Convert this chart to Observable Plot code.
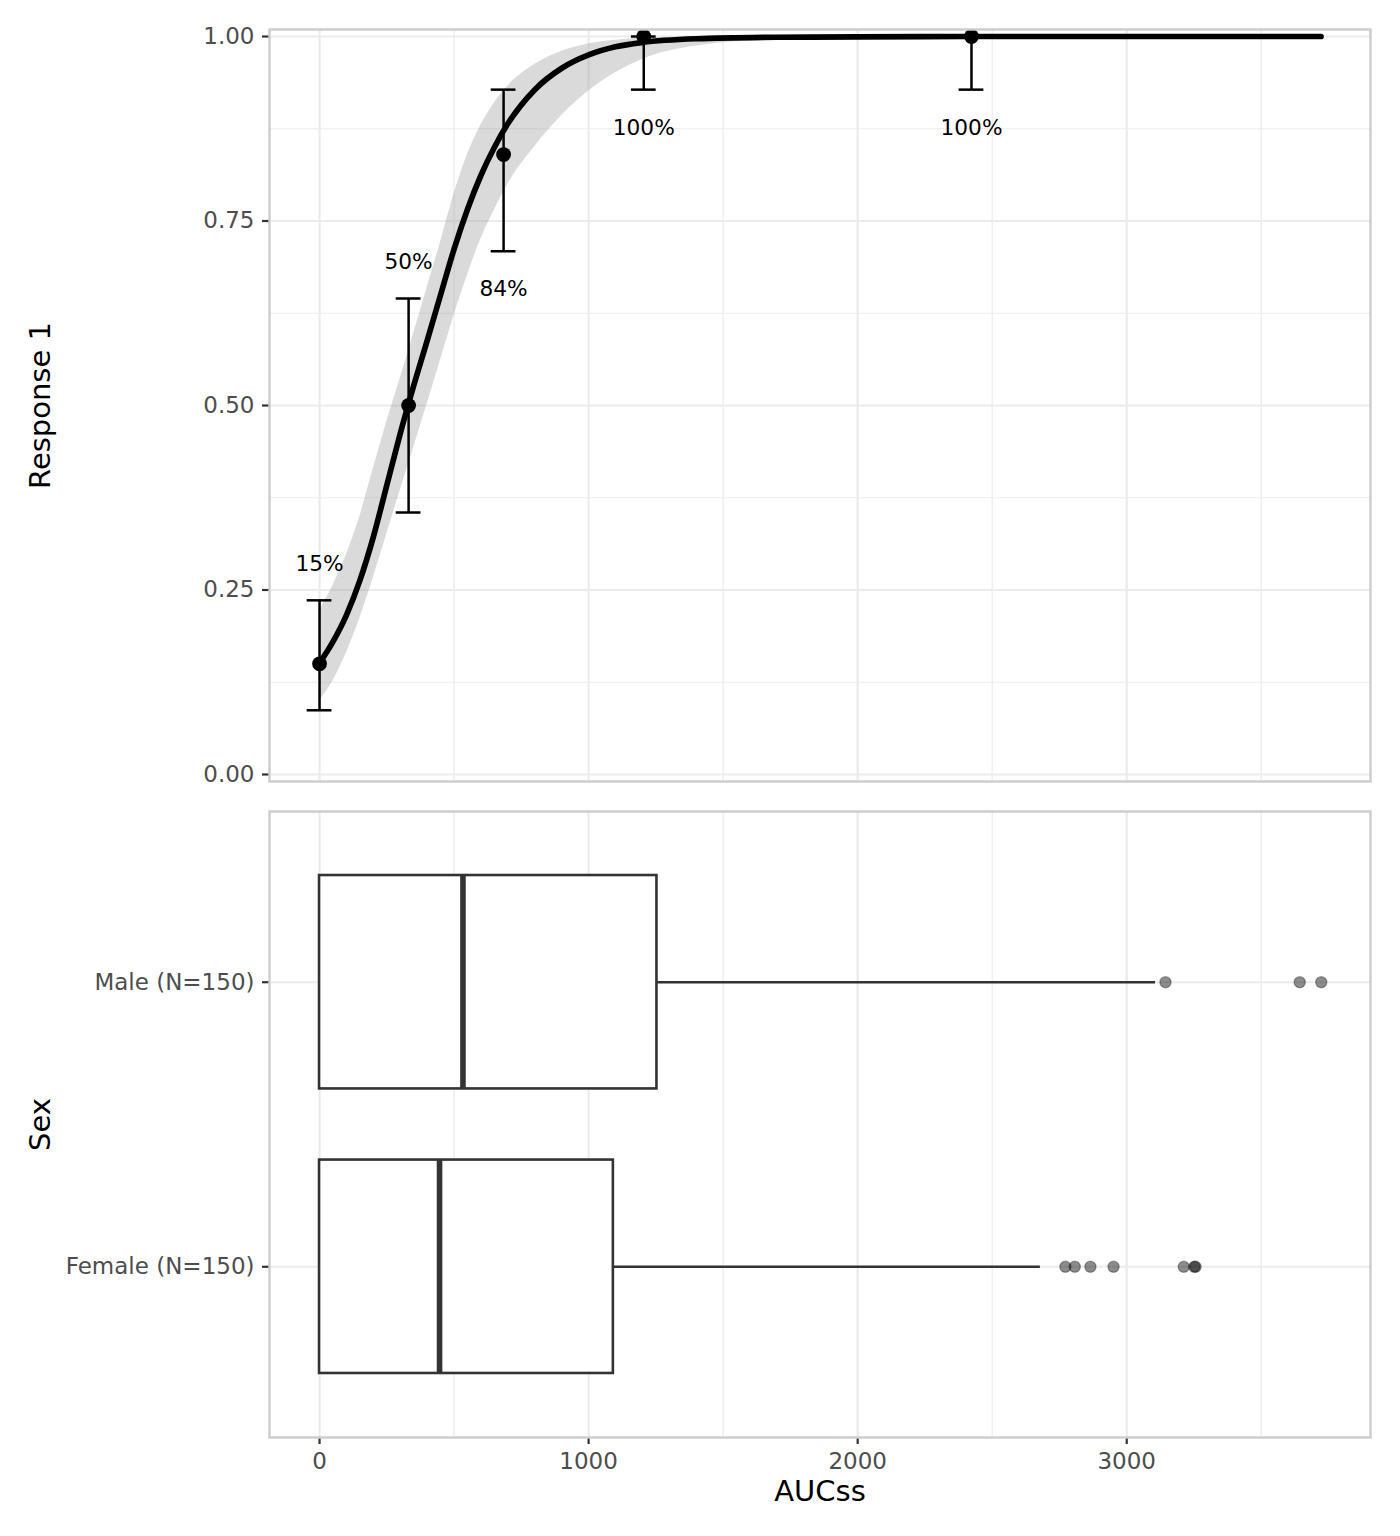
<!DOCTYPE html>
<html>
<head>
<meta charset="utf-8">
<script src="https://cdn.jsdelivr.net/npm/d3@7"></script>
<script src="https://cdn.jsdelivr.net/npm/@observablehq/plot@0.6"></script>
<style>
  html, body { margin: 0; padding: 0; background: #ffffff; }
  #chart svg { display: block; }
</style>
</head>
<body>
<div id="chart"></div>
<script>
// ---------------- data ----------------
// observed response by exposure bin
const respX = [0, 331, 684, 1205, 2423];
const respP = [0.15, 0.50, 0.84, 1.00, 1.00];
const respLo = [0.087, 0.355, 0.709, 0.928, 0.928];
const respHi = [0.236, 0.645, 0.928, 1.00, 1.00];
const respLabels = ["15%", "50%", "84%", "100%", "100%"];
const labelSide = ["above", "above", "below", "below", "below"];

// fitted curve and its confidence band
const fitX  = [0, 50, 100, 150, 200, 250, 300, 350, 400, 450, 500, 550, 600, 650, 700, 800, 900, 1000, 1100, 1200, 1400, 1700, 2000, 2400, 3722];
const fitP  = [0.151, 0.180, 0.216, 0.263, 0.322, 0.392, 0.462, 0.527, 0.588, 0.650, 0.712, 0.766, 0.812, 0.850, 0.882, 0.928, 0.957, 0.975, 0.986, 0.992, 0.997, 0.999, 0.9995, 1.0, 1.0];
const fitLo = [0.100, 0.127, 0.165, 0.212, 0.267, 0.326, 0.385, 0.443, 0.502, 0.562, 0.622, 0.677, 0.726, 0.765, 0.800, 0.851, 0.893, 0.926, 0.951, 0.969, 0.987, 0.996, 0.999, 1.0, 1.0];
const fitHi = [0.222, 0.256, 0.298, 0.350, 0.415, 0.478, 0.537, 0.598, 0.660, 0.722, 0.787, 0.840, 0.880, 0.910, 0.933, 0.962, 0.980, 0.990, 0.995, 0.998, 0.9995, 1.0, 1.0, 1.0, 1.0];

// boxplot of AUCss by sex
const sexLevels = ["Female (N=150)", "Male (N=150)"];
const boxQ1 = [0, 0];
const boxMedian = [446, 533];
const boxQ3 = [1092, 1254];
const whiskerLo = [0, 0];
const whiskerHi = [2679, 3107];
const outliersFemale = [2772, 2807, 2865, 2951, 3212, 3251, 3256];
const outliersMale = [3144, 3643, 3723];

// axes
const xTicks = [0, 1000, 2000, 3000];
const xMinor = [500, 1500, 2500, 3500];
const yTicks = [0, 0.25, 0.5, 0.75, 1];
const yMinor = [0.125, 0.375, 0.625, 0.875];
const xDomain = [-186, 3906];
const capHalf = 46;

// ---------------- tables ----------------
const resp = respX.map((x, i) => ({x, p: respP[i], lo: respLo[i], hi: respHi[i], label: respLabels[i], side: labelSide[i]}));
const caps = resp.flatMap(d => [{x: d.x, y: d.lo}, {x: d.x, y: d.hi}]);
const fit = fitX.map((x, i) => ({x, p: fitP[i], lo: fitLo[i], hi: fitHi[i]}));
const boxes = sexLevels.map((s, i) => ({
  pos: i + 1, q1: boxQ1[i], med: boxMedian[i], q3: boxQ3[i], wlo: whiskerLo[i], whi: whiskerHi[i]
}));
const outliers = [
  ...outliersFemale.map(x => ({x, pos: 1})),
  ...outliersMale.map(x => ({x, pos: 2}))
];

const GRID = "#EBEBEB";
const BORDER = "#CCCCCC";
const TICK = "#333333";
const TICKTEXT = "#4D4D4D";
const svgStyle = {fontFamily: "'DejaVu Sans', sans-serif", background: "#ffffff", overflow: "visible"};

// ---------------- top panel ----------------
const topPlot = Plot.plot({
  width: 1400,
  height: 795,
  marginLeft: 269,
  marginRight: 30,
  marginTop: 29,
  marginBottom: 14,
  style: svgStyle,
  x: {domain: xDomain, axis: null},
  y: {domain: [-0.0095, 1.0095]},
  marks: [
    Plot.ruleX(xMinor, {stroke: GRID, strokeWidth: 1.2}),
    Plot.ruleY(yMinor, {stroke: GRID, strokeWidth: 1.2}),
    Plot.ruleX(xTicks, {stroke: GRID, strokeWidth: 2.2}),
    Plot.ruleY(yTicks, {stroke: GRID, strokeWidth: 2.2}),
    Plot.areaY(fit, {x: "x", y1: "lo", y2: "hi", curve: "monotone-x", fill: "#999999", fillOpacity: 0.36}),
    Plot.ruleX(resp, {x: "x", y1: "lo", y2: "hi", stroke: "#000", strokeWidth: 2.5}),
    Plot.ruleY(caps, {y: "y", x1: d => d.x - capHalf, x2: d => d.x + capHalf, stroke: "#000", strokeWidth: 2.5}),
    Plot.line(fit, {x: "x", y: "p", curve: "monotone-x", stroke: "#000", strokeWidth: 5.7}),
    Plot.dot(resp, {x: "x", y: "p", r: 7.4, fill: "#000", stroke: "none"}),
    Plot.text(resp.filter(d => d.side === "above"), {x: "x", y: "hi", text: "label", dy: -36, fontSize: 21.7, fill: "#000"}),
    Plot.text(resp.filter(d => d.side === "below"), {x: "x", y: "lo", text: "label", dy: 38, fontSize: 21.7, fill: "#000"}),
    Plot.axisY(yTicks, {tickFormat: d3.format(".2f"), tickSize: 7, tickPadding: 8, stroke: TICK, strokeWidth: 2.2, fill: TICKTEXT, fontSize: 23, label: null}),
    Plot.frame({stroke: BORDER, strokeWidth: 2.4}),
    Plot.text(["Response 1"], {text: d => d, frameAnchor: "left", dx: -229, rotate: -90, textAnchor: "middle", lineAnchor: "middle", fontSize: 29, fill: "#000"})
  ]
});

// ---------------- bottom panel ----------------
const bottomPlot = Plot.plot({
  width: 1400,
  height: 741,
  marginLeft: 269,
  marginRight: 30,
  marginTop: 16,
  marginBottom: 99,
  style: svgStyle,
  x: {domain: xDomain},
  y: {domain: [0.4, 2.6]},
  marks: [
    Plot.ruleX(xMinor, {stroke: GRID, strokeWidth: 1.2}),
    Plot.ruleX(xTicks, {stroke: GRID, strokeWidth: 2.2}),
    Plot.ruleY([1, 2], {stroke: GRID, strokeWidth: 2.2}),
    Plot.ruleY(boxes, {y: "pos", x1: "q3", x2: "whi", stroke: TICK, strokeWidth: 2.6}),
    Plot.ruleY(boxes, {y: "pos", x1: "wlo", x2: "q1", stroke: TICK, strokeWidth: 2.6}),
    Plot.rect(boxes, {x1: "q1", x2: "q3", y1: d => d.pos - 0.375, y2: d => d.pos + 0.375, fill: "#ffffff", stroke: TICK, strokeWidth: 2.6}),
    Plot.ruleX(boxes, {x: "med", y1: d => d.pos - 0.375, y2: d => d.pos + 0.375, stroke: TICK, strokeWidth: 5.6}),
    Plot.dot(outliers, {x: "x", y: "pos", r: 5.6, fill: "#000", fillOpacity: 0.45, stroke: "#000", strokeOpacity: 0.35, strokeWidth: 1.2}),
    Plot.axisX(xTicks, {anchor: "bottom", tickFormat: d3.format("d"), tickSize: 7, tickPadding: 8, stroke: TICK, strokeWidth: 2.2, fill: TICKTEXT, fontSize: 23, label: null}),
    Plot.axisY([1, 2], {tickFormat: d => sexLevels[d - 1], tickSize: 7, tickPadding: 8, stroke: TICK, strokeWidth: 2.2, fill: TICKTEXT, fontSize: 23, label: null}),
    Plot.frame({stroke: BORDER, strokeWidth: 2.4}),
    Plot.text(["Sex"], {text: d => d, frameAnchor: "left", dx: -229, rotate: -90, textAnchor: "middle", lineAnchor: "middle", fontSize: 29, fill: "#000"}),
    Plot.text(["AUCss"], {text: d => d, frameAnchor: "bottom", dy: 54, textAnchor: "middle", lineAnchor: "middle", fontSize: 29, fill: "#000"})
  ]
});

const chart = document.getElementById("chart");
chart.appendChild(topPlot);
chart.appendChild(bottomPlot);
</script>
</body>
</html>
